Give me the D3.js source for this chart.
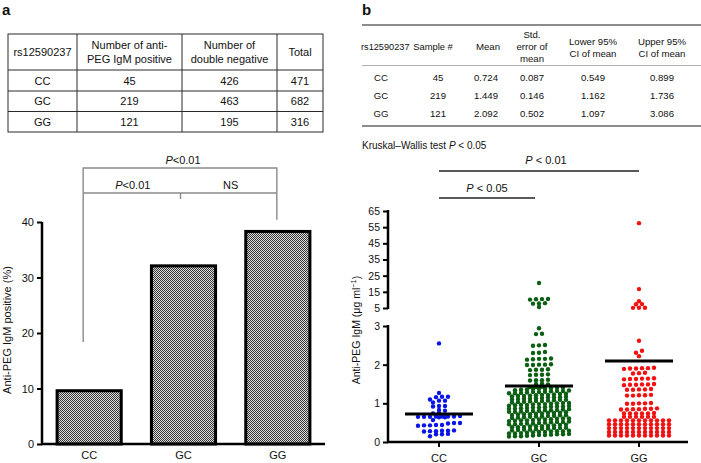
<!DOCTYPE html>
<html><head><meta charset="utf-8">
<script src="https://cdn.jsdelivr.net/npm/d3@7"></script>
<style>body{margin:0;background:#fff}svg text{font-family:"Liberation Sans",Arial,Helvetica,sans-serif;fill:#111}</style>
</head><body><svg id="c" width="701" height="463"></svg>
<script>
// ---------- data ----------
const genotypes = ["CC","GC","GG"];
const positiveCounts = [45,219,121];
const doubleNegativeCounts = [426,463,195];
const totals = [471,682,316];
const percentPositive = [9.6,32.1,38.3];
const barTicks = [0,10,20,30,40];

const sampleN = [45,219,121];
const means = [0.724,1.449,2.092];
const sems = ["0.087","0.146","0.502"];
const lower95 = ["0.549","1.162","1.097"];
const upper95 = ["0.899","1.736","3.086"];
const lowTicks = [0,1,2,3];
const highTicks = [5,15,25,35,45,55,65];

const ccValues = [2.55,1.27,1.17,1.17,1.16,1.10,1.07,1.07,1.02,0.93,0.93,0.92,0.83,0.81,0.75,0.74,
 0.67,0.66,0.66,0.66,0.66,0.65,0.65,0.65,0.64,0.64,0.57,0.49,0.49,0.48,0.44,0.44,0.43,0.43,0.42,
 0.30,0.29,0.29,0.28,0.28,0.27,0.21,0.20,0.20,0.15];

const gcValues = [20.5,10.6,10.5,10.4,10.2,8.0,7.8,7.7,5.6,
 2.94,2.80,2.79,2.51,2.50,2.49,2.33,2.31,2.30,2.16,2.15,2.15,2.14,2.13,2.01,2.00,2.00,1.99,1.99,
 1.88,1.87,1.87,1.86,1.75,1.74,1.74,1.73,1.61,1.60,1.60,1.59,1.51,1.50,1.49,
 1.43,1.42,1.42,1.41,1.40,1.39,1.38,1.38,1.37,1.36,1.35,1.34,1.33,
 1.32,1.32,1.31,1.30,1.29,1.29,1.28,1.27,1.26,1.26,1.25,1.24,1.23,
 1.22,1.22,1.21,1.20,1.19,1.19,1.18,1.17,1.16,1.16,1.15,1.14,1.13,
 1.12,1.12,1.11,1.10,1.09,1.09,1.08,1.07,1.06,1.06,1.05,1.04,1.03,
 1.02,1.01,1.01,1.00,0.99,0.98,0.98,0.97,0.96,0.96,0.95,0.94,0.93,
 0.92,0.92,0.91,0.90,0.89,0.89,0.88,0.87,0.86,0.86,0.85,0.84,0.83,
 0.82,0.82,0.81,0.80,0.80,0.79,0.78,0.78,0.77,0.76,0.75,0.75,0.74,0.73,
 0.72,0.72,0.71,0.70,0.69,0.69,0.68,0.67,0.66,0.66,0.65,0.64,0.63,
 0.62,0.61,0.61,0.60,0.59,0.58,0.58,0.57,0.56,0.56,0.55,0.54,0.53,
 0.52,0.52,0.51,0.50,0.49,0.48,0.48,0.47,0.46,0.46,0.45,0.44,0.43,
 0.42,0.41,0.41,0.40,0.39,0.38,0.38,0.37,0.36,0.36,0.35,0.34,0.33,
 0.32,0.32,0.31,0.30,0.29,0.28,0.28,0.27,0.26,0.26,0.25,0.24,0.23,
 0.22,0.22,0.21,0.20,0.20,0.19,0.18,0.18,0.17,0.16,0.15,0.15,0.14];

const ggValues = [57.5,16.7,9.2,7.4,7.3,5.2,5.2,5.1,
 2.62,2.36,2.31,2.22,
 1.92,1.91,1.91,1.90,1.90,1.89,
 1.79,1.78,1.77,
 1.65,1.64,1.64,1.63,1.63,1.62,
 1.50,1.49,1.49,1.48,1.48,1.47,
 1.37,1.36,1.36,1.35,1.35,
 1.22,1.21,1.21,1.20,1.20,
 1.01,1.00,1.00,0.99,0.99,
 0.87,0.86,0.86,0.85,0.85,0.84,0.84,
 0.75,0.74,0.74,0.74,0.74,0.74,
 0.65,0.65,0.65,0.65,0.65,0.65,
 0.56,0.56,0.56,0.56,0.56,0.56,0.56,0.56,0.56,0.56,0.56,
 0.46,0.46,0.46,0.46,0.46,0.46,0.46,0.46,0.46,0.46,0.46,
 0.36,0.36,0.36,0.36,0.36,0.36,0.36,0.36,0.36,0.36,0.36,
 0.26,0.26,0.26,0.26,0.26,0.26,0.26,0.26,0.26,0.26,0.26,
 0.17,0.17,0.17,0.17,0.17,0.17,0.17,0.17,0.17,0.17,0.17];

const dotColors = ["#0a14e6","#0b5e12","#f21010"];

// ---------- drawing ----------
const svg = d3.select("#c");
const FONT = '"Liberation Sans",Arial,Helvetica,sans-serif';

const defs = svg.append("defs");
const pat = defs.append("pattern").attr("id","dither").attr("patternUnits","userSpaceOnUse")
  .attr("width",2).attr("height",2);
pat.append("rect").attr("width",2).attr("height",2).attr("fill","#e0e0e0");
pat.append("rect").attr("width",1).attr("height",1).attr("fill","#333");
pat.append("rect").attr("x",1).attr("y",1).attr("width",1).attr("height",1).attr("fill","#333");

svg.append("text").attr("x",2).attr("y",15).attr("font-size",15).attr("font-weight","bold").text("a");
svg.append("text").attr("x",362).attr("y",15).attr("font-size",15).attr("font-weight","bold").text("b");

// ---------- table a ----------
const colEdges = [8,77,182,277,323];
const rowEdges = [34,70,91,111.5,132];
const ta = svg.append("g").attr("stroke","#2a2a2a").attr("stroke-width",1).attr("fill","none");
ta.append("rect").attr("x",colEdges[0]).attr("y",rowEdges[0]).attr("width",colEdges[4]-colEdges[0]).attr("height",rowEdges[4]-rowEdges[0]);
colEdges.slice(1,4).forEach(x=>ta.append("line").attr("x1",x).attr("x2",x).attr("y1",rowEdges[0]).attr("y2",rowEdges[4]));
rowEdges.slice(1,4).forEach(y=>ta.append("line").attr("x1",colEdges[0]).attr("x2",colEdges[4]).attr("y1",y).attr("y2",y));
const colMid = i => (colEdges[i]+colEdges[i+1])/2;
const rowMid = i => (rowEdges[i]+rowEdges[i+1])/2;
function ttext(x,y,s,size,anchor){ return svg.append("text").attr("x",x).attr("y",y).attr("text-anchor",anchor||"middle")
  .attr("dominant-baseline","central").attr("font-size",size||11).text(s); }
ttext(colMid(0),rowMid(0),"rs12590237");
ttext(colMid(1),rowMid(0)-7,"Number of anti-");
ttext(colMid(1),rowMid(0)+7,"PEG IgM positive");
ttext(colMid(2),rowMid(0)-7,"Number of");
ttext(colMid(2),rowMid(0)+7,"double negative");
ttext(colMid(3),rowMid(0),"Total");
genotypes.forEach((g,i)=>{
  ttext(colMid(0),rowMid(i+1),g);
  ttext(colMid(1),rowMid(i+1),positiveCounts[i]);
  ttext(colMid(2),rowMid(i+1),doubleNegativeCounts[i]);
  ttext(colMid(3),rowMid(i+1),totals[i]);
});

// ---------- bar chart a ----------
const xA = d3.scaleBand().domain(genotypes).range([42,325]).paddingInner(0.32).paddingOuter(0.16);
const yA = d3.scaleLinear().domain([0,40]).range([444,222]);
svg.append("g").selectAll("rect").data(genotypes).join("rect")
  .attr("x",d=>xA(d)).attr("width",xA.bandwidth())
  .attr("y",(d,i)=>yA(percentPositive[i])).attr("height",(d,i)=>yA(0)-yA(percentPositive[i]))
  .attr("fill","url(#dither)").attr("stroke","#000").attr("stroke-width",3);
const axA = svg.append("g").attr("transform","translate(42,0)")
  .call(d3.axisLeft(yA).tickValues(barTicks).tickSize(5).tickPadding(3));
axA.select(".domain").attr("stroke-width",2.5).attr("d","M0,"+yA(40)+"V"+yA(0));
axA.selectAll(".tick line").attr("stroke-width",2);
axA.selectAll("text").attr("font-size",11).attr("font-family",FONT).attr("fill","#111");
svg.append("line").attr("x1",41).attr("x2",325).attr("y1",yA(0)).attr("y2",yA(0)).attr("stroke","#000").attr("stroke-width",2.5);
genotypes.forEach(g=>svg.append("text").attr("x",xA(g)+xA.bandwidth()/2).attr("y",459).attr("text-anchor","middle").attr("font-size",11).text(g));
svg.append("text").attr("transform","translate(11,330) rotate(-90)").attr("text-anchor","middle").attr("font-size",11).text("Anti-PEG IgM positive (%)");

const cA = g => xA(g)+xA.bandwidth()/2;
const br = svg.append("g").attr("stroke","#8a8a8a").attr("stroke-width",1.4).attr("fill","none");
const xL = cA("CC")-6, xR = cA("GG")-1, xM = cA("GC")-3;
br.append("path").attr("d",`M${xL},${yA(18.4)}V168H${xR}V${yA(40.4)}`);
br.append("path").attr("d",`M${xL},193H${xR}`);
br.append("path").attr("d",`M${xM},193V199`);
function ptext(x,y,rest,size){
  const t = svg.append("text").attr("x",x).attr("y",y).attr("text-anchor","middle").attr("font-size",size||11);
  t.append("tspan").attr("font-style","italic").text("P");
  t.append("tspan").text(rest);
  return t;
}
ptext((xL+xR)/2+3,164,"<0.01");
ptext((xL+xM)/2+1,189,"<0.01");
svg.append("text").attr("x",(xM+xR)/2+2).attr("y",189).attr("text-anchor","middle").attr("font-size",11).text("NS");

// ---------- table b ----------
const tb = svg.append("g");
tb.append("line").attr("x1",362).attr("x2",701).attr("y1",25).attr("y2",25).attr("stroke","#8c8c8c").attr("stroke-width",2);
tb.append("line").attr("x1",362).attr("x2",701).attr("y1",65.5).attr("y2",65.5).attr("stroke","#b0b0b0").attr("stroke-width",1);
tb.append("line").attr("x1",362).attr("x2",701).attr("y1",126).attr("y2",126).attr("stroke","#8c8c8c").attr("stroke-width",2);
const fsB = 9.6;
ttext(361,46.5,"rs12590237",9.2,"start");
ttext(433,46.5,"Sample #",9.4);
ttext(488,46.5,"Mean",fsB);
ttext(532,34,"Std.",fsB);
ttext(532,46,"error of",fsB);
ttext(532,58,"mean",fsB);
ttext(593,41,"Lower 95%",fsB);
ttext(593,53,"CI of mean",fsB);
ttext(662,41,"Upper 95%",fsB);
ttext(662,53,"CI of mean",fsB);
const rowY = [77,95,113];
genotypes.forEach((g,i)=>{
  ttext(381,rowY[i],g,fsB);
  ttext(438,rowY[i],sampleN[i],fsB);
  ttext(486,rowY[i],means[i].toFixed(3),fsB);
  ttext(532,rowY[i],sems[i],fsB);
  ttext(593,rowY[i],lower95[i],fsB);
  ttext(662,rowY[i],upper95[i],fsB);
});
const kw = svg.append("text").attr("x",362).attr("y",149).attr("font-size",10);
kw.append("tspan").text("Kruskal\u2013Wallis test ");
kw.append("tspan").attr("font-style","italic").text("P");
kw.append("tspan").text(" < 0.05");

// ---------- scatter b ----------
const xB = d3.scaleBand().domain(genotypes).range([389,689]);
const cB = g => xB(g)+xB.bandwidth()/2;
const yLow = d3.scaleLinear().domain([0,3]).range([442,326]);
const yHigh = d3.scaleLinear().domain([5,65]).range([308,211]);
const yVal = v => v>4 ? yHigh(v) : yLow(v);

const fmt = d3.format("d");
const axLow = svg.append("g").attr("transform","translate(388,0)").call(d3.axisLeft(yLow).tickValues(lowTicks).tickFormat(fmt).tickSize(5).tickPadding(3));
const axHigh = svg.append("g").attr("transform","translate(388,0)").call(d3.axisLeft(yHigh).tickValues(highTicks).tickFormat(fmt).tickSize(5).tickPadding(3));
[axLow,axHigh].forEach(a=>{
  a.select(".domain").remove();
  a.selectAll(".tick line").attr("stroke-width",2);
  a.selectAll("text").attr("font-size",10.5).attr("font-family",FONT).attr("fill","#111");
});
svg.append("line").attr("x1",388).attr("x2",388).attr("y1",yLow(3)-1).attr("y2",yLow(0)+1).attr("stroke","#000").attr("stroke-width",2.5);
svg.append("line").attr("x1",388).attr("x2",388).attr("y1",yHigh(65)-1).attr("y2",yHigh(5)+1).attr("stroke","#000").attr("stroke-width",2.5);
svg.append("line").attr("x1",387).attr("x2",688).attr("y1",yLow(0)).attr("y2",yLow(0)).attr("stroke","#000").attr("stroke-width",2.5);
genotypes.forEach(g=>{
  svg.append("line").attr("x1",cB(g)).attr("x2",cB(g)).attr("y1",yLow(0)).attr("y2",yLow(0)+5).attr("stroke","#000").attr("stroke-width",2);
  svg.append("text").attr("x",cB(g)).attr("y",462).attr("text-anchor","middle").attr("font-size",11).text(g);
});
const yl = svg.append("text").attr("transform","translate(360,330) rotate(-90)").attr("text-anchor","middle").attr("font-size",10.5);
yl.append("tspan").text("Anti-PEG IgM (\u03bcg ml");
yl.append("tspan").attr("dy",-4).attr("font-size",7.5).text("\u22121");
yl.append("tspan").attr("dy",4).text(")");

// row-based scatter layout (values close in height share a row)
function rowLayout(ys,binH,sp){
  const idx = ys.map((y,i)=>i).sort((a,b)=>ys[b]-ys[a]);
  const xs = new Array(ys.length);
  let row=[], start=null;
  const flush=()=>{const n=row.length; row.forEach((i,k)=>xs[i]=(k-(n-1)/2)*sp); row=[];};
  idx.forEach(i=>{ if(start===null || start-ys[i]>binH){ flush(); start=ys[i]; } row.push(i); });
  flush();
  return xs;
}
const groups=[ccValues,gcValues,ggValues];
groups.forEach((vals,gi)=>{
  const ys = vals.map(yVal);
  const xs = rowLayout(ys,3,6);
  svg.append("g").selectAll("circle").data(vals).join("circle")
    .attr("cx",(d,i)=>cB(genotypes[gi])+xs[i]).attr("cy",(d,i)=>ys[i]).attr("r",2.2)
    .attr("fill",dotColors[gi]);
});
genotypes.forEach((g,i)=>{
  svg.append("line").attr("x1",cB(g)-34).attr("x2",cB(g)+34).attr("y1",yLow(means[i])).attr("y2",yLow(means[i]))
    .attr("stroke","#000").attr("stroke-width",3);
});
svg.append("line").attr("x1",cB("CC")).attr("x2",cB("GG")).attr("y1",171).attr("y2",171).attr("stroke","#222").attr("stroke-width",1.3);
svg.append("line").attr("x1",cB("CC")).attr("x2",cB("GC")-4).attr("y1",198).attr("y2",198).attr("stroke","#222").attr("stroke-width",1.3);
const p1 = svg.append("text").attr("x",546).attr("y",164).attr("text-anchor","middle").attr("font-size",11);
p1.append("tspan").attr("font-style","italic").text("P"); p1.append("tspan").text(" < 0.01");
const p2 = svg.append("text").attr("x",487).attr("y",192).attr("text-anchor","middle").attr("font-size",11);
p2.append("tspan").attr("font-style","italic").text("P"); p2.append("tspan").text(" < 0.05");
</script></body></html>
